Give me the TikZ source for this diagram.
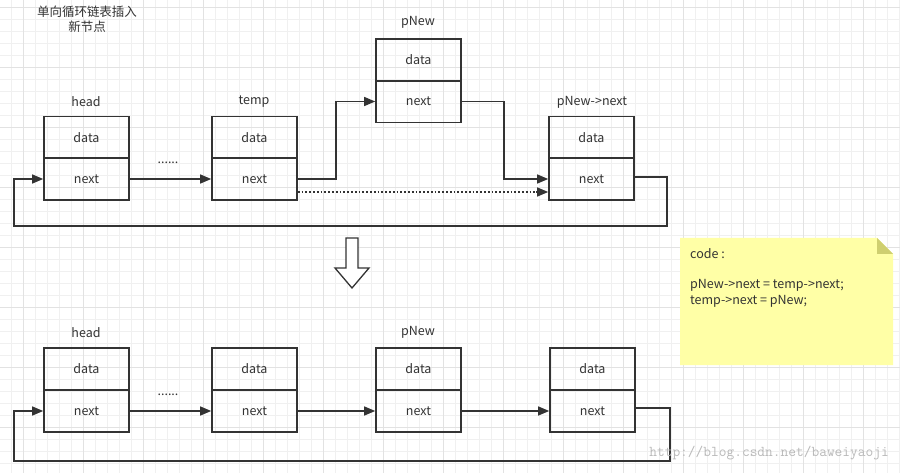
\documentclass[tikz,border=0pt]{standalone}
\usepackage{fontspec}
\setmainfont{Noto Sans CJK SC}
\usetikzlibrary{arrows.meta}
\definecolor{ln}{HTML}{333333}
\definecolor{gr}{HTML}{F0F0F0}
\definecolor{grm}{HTML}{E2E2E2}
\definecolor{note}{HTML}{FFFFA6}
\definecolor{fold}{HTML}{CFCF70}
\begin{document}
\begin{tikzpicture}[x=1pt,y=-1pt,
  cell/.style={draw=ln,line width=1.6pt,minimum width=85pt,minimum height=42pt,inner sep=0pt,font=\fontsize{12.5}{14}\selectfont,text=ln},
  lab/.style={font=\fontsize{12.5}{14}\selectfont,text=ln,inner sep=0pt},
  con/.style={draw=ln,line width=1.4pt,-{Triangle[length=11pt,width=9pt]}},
  dcon/.style={draw=ln,line width=1.6pt,dotted,-{Triangle[length=11pt,width=9pt,sep=0pt,line width=0pt]}}]
\useasboundingbox (0,0) rectangle (900,473);
\fill[white] (0,0) rectangle (900,473);
\foreach \x in {11,23,...,899} \draw[gr,line width=0.6pt] (\x,0) -- (\x,473);
\foreach \y in {7,19,...,473} \draw[gr,line width=0.6pt] (0,\y) -- (900,\y);
\foreach \x in {23,83,...,899} \draw[grm,line width=0.8pt] (\x,0) -- (\x,473);
\foreach \y in {7,67,...,473} \draw[grm,line width=0.8pt] (0,\y) -- (900,\y);
% title
\node[lab] (t1) at (87,12) {单向循环链表插入};
\node[lab] (t2) at (87,27) {新节点};
% top row
\node[cell] (hd) at (86.5,137.5) {data}; \node[cell] (hn) at (86.5,179) {next};
\node[cell] (td) at (254.5,137.5) {data}; \node[cell] (tn) at (254.5,179) {next};
\node[cell] (pd) at (418.5,60) {data}; \node[cell] (pn) at (418.5,101.5) {next};
\node[cell] (qd) at (591.5,137.5) {data}; \node[cell] (qn) at (591.5,179) {next};
\node[lab] (lh) at (86,102) {head};
\node[lab] (lt) at (254,102) {temp};
\node[lab] (lp) at (418,22) {pNew};
\node[lab] (lq) at (592,102) {pNew->next};
\node[lab] (d1) at (168,163) {......};
\draw[con] (hn.east) -- (tn.west);
\draw[con] (tn.east) -- (336,179) |- (pn.west);
\draw[con] (pn.east) -- (504,101.5) |- (qn.west);
\draw[dotted,ln,line width=1.8pt] ([yshift=-13pt]tn.east) -- ([yshift=-13pt,xshift=-10pt]qn.west);
\draw[con,shorten <=0pt] ([yshift=-13pt,xshift=-12pt]qn.west) -- ([yshift=-13pt]qn.west);
\coordinate (c1) at (667,226);
\draw[con] ([yshift=2pt]qn.east) -| (c1) -| (14,179) -- (hn.west);
% down arrow
\draw[ln,line width=1.3pt,fill=white] (346,238) -- (358,238) -- (358,268) -- (369,268) -- (352,288) -- (335,268) -- (346,268) -- cycle;
% bottom row
\node[cell] (bhd) at (86.5,369) {data}; \node[cell] (bhn) at (86.5,411) {next};
\node[cell] (btd) at (254.5,369) {data}; \node[cell] (btn) at (254.5,411) {next};
\node[cell] (bpd) at (418.5,369) {data}; \node[cell] (bpn) at (418.5,411) {next};
\node[cell] (bqd) at (592.5,369) {data}; \node[cell] (bqn) at (592.5,411) {next};
\node[lab] (blh) at (86,333) {head};
\node[lab] (blp) at (418,332) {pNew};
\node[lab] (d2) at (168,395) {......};
\draw[con] (bhn.east) -- (btn.west);
\draw[con] (btn.east) -- (bpn.west);
\draw[con] (bpn.east) -- (bqn.west);
\coordinate (c2) at (670,461);
\draw[con] ([yshift=3pt]bqn.east) -| (c2) -| (14,411) -- (bhn.west);
% note
\fill[note] (680,238) -- (877,238) -- (893,254) -- (893,365) -- (680,365) -- cycle;
\fill[fold] (877,238) -- (893,254) -- (877,254) -- cycle;
\node[lab,anchor=north west,align=left,font=\fontsize{12.5}{16}\selectfont] (code) at (690,248) {code :\\[14pt]pNew->next = temp->next;\\temp->next = pNew;};
% watermark
\node[lab,text=gray!55,font=\ttfamily\fontsize{15}{17}\selectfont,anchor=east] (wm) at (889,453) {http://blog.csdn.net/baweiyaoji};
\end{tikzpicture}
\end{document}
